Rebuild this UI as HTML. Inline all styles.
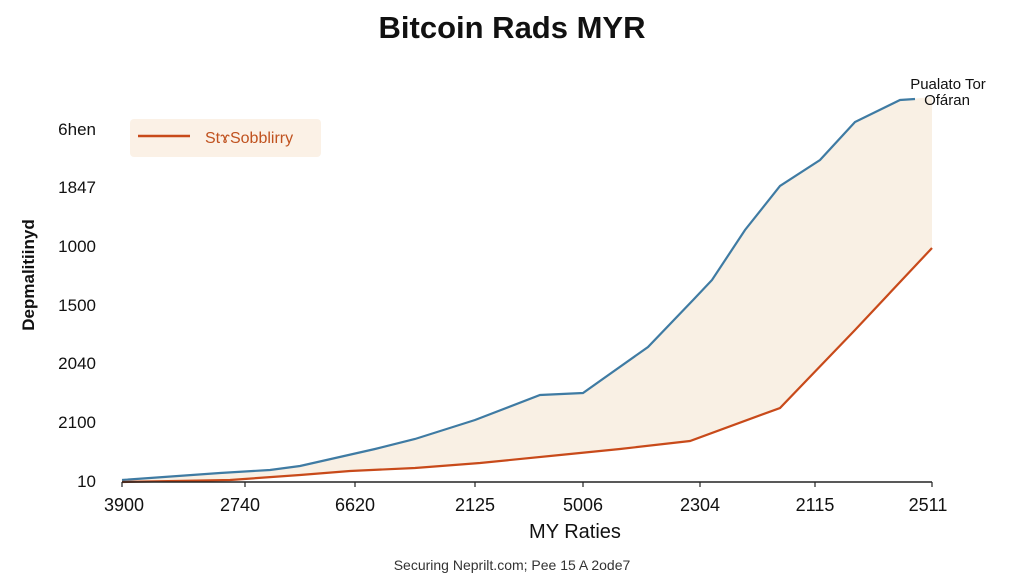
<!DOCTYPE html>
<html><head><style>
body{margin:0;background:#fff;width:1024px;height:576px;overflow:hidden;font-family:"Liberation Sans",sans-serif}
</style></head><body>
<svg width="1024" height="576" viewBox="0 0 1024 576" font-family="Liberation Sans, sans-serif">
<rect width="1024" height="576" fill="#fff"/>
<text x="512" y="38" text-anchor="middle" font-size="31" font-weight="bold" fill="#111">Bitcoin Rads MYR</text>
<polygon fill="#f9f0e4" points="122,480 220,473 270,470 300,466 375,449 415,439 475,420 540,395 583,393 648,347 695,298 712,280 745,230 780,186 820,160 855,122 900,100 932,97 932,248 855,330 780,408 690,441 620,449 560,455 480,463 415,468 350,471 300,475 230,480 122,482"/>
<polyline fill="none" stroke="#3f7ba3" stroke-width="2.2" points="122,480 220,473 270,470 300,466 375,449 415,439 475,420 540,395 583,393 648,347 695,298 712,280 745,230 780,186 820,160 855,122 900,100 915,99"/>
<polyline fill="none" stroke="#c84a1a" stroke-width="2.2" points="122,482 230,480 300,475 350,471 415,468 480,463 560,455 620,449 690,441 780,408 855,330 932,248"/>
<line x1="122" y1="482" x2="932" y2="482" stroke="#222" stroke-width="1.5"/>
<g stroke="#222" stroke-width="1.2">
<line x1="122" y1="482" x2="122" y2="487"/><line x1="245" y1="482" x2="245" y2="487"/><line x1="355" y1="482" x2="355" y2="487"/><line x1="475" y1="482" x2="475" y2="487"/><line x1="583" y1="482" x2="583" y2="487"/><line x1="700" y1="482" x2="700" y2="487"/><line x1="815" y1="482" x2="815" y2="487"/><line x1="932" y1="482" x2="932" y2="487"/>
</g>
<g font-size="18" fill="#111" text-anchor="middle">
<text x="124" y="511">3900</text><text x="240" y="511">2740</text><text x="355" y="511">6620</text><text x="475" y="511">2125</text><text x="583" y="511">5006</text><text x="700" y="511">2304</text><text x="815" y="511">2115</text><text x="928" y="511">2511</text>
</g>
<g font-size="17" fill="#111" text-anchor="end">
<text x="96" y="135">6hen</text><text x="96" y="193">1847</text><text x="96" y="252">1000</text><text x="96" y="311">1500</text><text x="96" y="369">2040</text><text x="96" y="428">2100</text><text x="96" y="487">10</text>
</g>
<text x="575" y="538" text-anchor="middle" font-size="20" fill="#111">MY Raties</text>
<text transform="translate(34,275) rotate(-90)" text-anchor="middle" font-size="17" font-weight="bold" fill="#111">Depmalitiinyd</text>
<rect x="130" y="119" width="191" height="38" rx="4" fill="#fbf1e6"/>
<line x1="138" y1="136" x2="190" y2="136" stroke="#c84a1a" stroke-width="2.5"/>
<text x="205" y="143" font-size="16" fill="#c0521f">StɤSobblirry</text>
<text x="948" y="89" text-anchor="middle" font-size="15" fill="#111">Pualato Tor</text>
<text x="947" y="105" text-anchor="middle" font-size="15" fill="#111">Ofáran</text>
<text x="512" y="570" text-anchor="middle" font-size="14" fill="#333">Securing Neprilt.com; Pee 15 A 2ode7</text>
</svg>
</body></html>
